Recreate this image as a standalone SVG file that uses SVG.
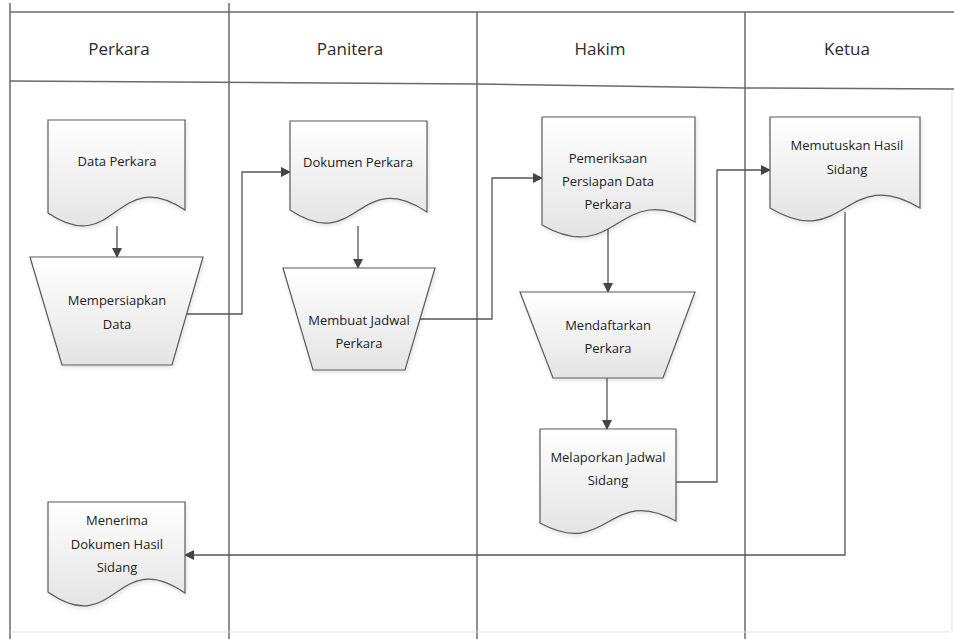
<svg xmlns="http://www.w3.org/2000/svg" width="954" height="639" viewBox="0 0 954 639">
<style>
.lane{stroke:#6a6a6a;stroke-width:1.5;fill:none}
.hdr{font-family:"Open Sans","DejaVu Sans",sans-serif;font-size:17px;fill:#2a2a2a;text-anchor:middle}
.shape{fill:url(#g);stroke:#5a5a5a;stroke-width:1.2;filter:url(#sh)}
.t{font-family:"Open Sans","DejaVu Sans",sans-serif;font-size:13px;fill:#222;text-anchor:middle}
.c{fill:none;stroke:#555;stroke-width:1.3}
</style>
<defs>
<linearGradient id="g" x1="0" y1="0" x2="0" y2="1">
<stop offset="0" stop-color="#ffffff"/>
<stop offset="1" stop-color="#e4e4e4"/>
</linearGradient>
<filter id="sh" x="-10%" y="-10%" width="130%" height="130%">
<feDropShadow dx="1" dy="2" stdDeviation="2" flood-color="#000" flood-opacity="0.12"/>
</filter>
<marker id="a" markerWidth="10" markerHeight="10" refX="9" refY="5" orient="auto" markerUnits="userSpaceOnUse">
<path d="M0,0 L10,5 L0,10 Z" fill="#444"/>
</marker>
</defs>
<rect width="954" height="639" fill="#ffffff"/>
<g id="lanes">
<line class="lane" x1="10" y1="3" x2="10" y2="639"/>
<line class="lane" x1="229" y1="3" x2="229" y2="639"/>
<line class="lane" x1="477" y1="12" x2="477" y2="639"/>
<line class="lane" x1="745" y1="12" x2="745" y2="639"/>
<line class="lane" x1="10" y1="12" x2="954" y2="12"/>
<path class="lane" d="M10,81 L477,84 L745,88 L954,89"/>
<line x1="10" y1="632" x2="950" y2="632" stroke="#e2e2e2" stroke-width="1"/>
<line x1="952" y1="90" x2="952" y2="632" stroke="#e2e2e2" stroke-width="1"/>
<text class="hdr" x="119" y="55">Perkara</text>
<text class="hdr" x="350" y="55">Panitera</text>
<text class="hdr" x="600" y="55">Hakim</text>
<text class="hdr" x="847" y="55">Ketua</text>
</g>
<g id="connectors">
<path class="c" d="M117,226 V257" marker-end="url(#a)"/>
<path class="c" d="M187,314 H242 V172 H290" marker-end="url(#a)"/>
<path class="c" d="M358,226 V268" marker-end="url(#a)"/>
<path class="c" d="M420,319 H492 V178 H542" marker-end="url(#a)"/>
<path class="c" d="M608,226 V292" marker-end="url(#a)"/>
<path class="c" d="M607,378 V429" marker-end="url(#a)"/>
<path class="c" d="M676,482 H717 V170 H770" marker-end="url(#a)"/>
<path class="c" d="M845,212 V555 H185" marker-end="url(#a)"/>
</g>
<g id="data-perkara">
<path class="shape" d="M48,120 H185 V210 C116,164 116,259 48,213 Z"/>
<text class="t" x="117" y="166">Data Perkara</text>
</g>
<g id="mempersiapkan-data">
<path class="shape" d="M30,257 H203 L172,365 H62 Z"/>
<text class="t" x="117" y="305">Mempersiapkan</text>
<text class="t" x="117" y="329">Data</text>
</g>
<g id="dokumen-perkara">
<path class="shape" d="M290,121 H427 V212 C358,166 358,255 290,210 Z"/>
<text class="t" x="358" y="167">Dokumen Perkara</text>
</g>
<g id="membuat-jadwal">
<path class="shape" d="M283,268 H435 L405,370 H313 Z"/>
<text class="t" x="359" y="325">Membuat Jadwal</text>
<text class="t" x="359" y="348">Perkara</text>
</g>
<g id="pemeriksaan">
<path class="shape" d="M542,117 H695 V222 C618,178 618,268 542,225 Z"/>
<text class="t" x="608" y="163">Pemeriksaan</text>
<text class="t" x="608" y="186">Persiapan Data</text>
<text class="t" x="608" y="209">Perkara</text>
</g>
<g id="mendaftarkan">
<path class="shape" d="M520,292 H695 L663,378 H553 Z"/>
<text class="t" x="608" y="330">Mendaftarkan</text>
<text class="t" x="608" y="353">Perkara</text>
</g>
<g id="melaporkan">
<path class="shape" d="M540,429 H676 V521 C608,484 608,560 540,523 Z"/>
<text class="t" x="608" y="462">Melaporkan Jadwal</text>
<text class="t" x="608" y="485">Sidang</text>
</g>
<g id="memutuskan">
<path class="shape" d="M770,117 H920 V208 C845,163 845,253 770,208 Z"/>
<text class="t" x="847" y="150">Memutuskan Hasil</text>
<text class="t" x="847" y="174">Sidang</text>
</g>
<g id="menerima">
<path class="shape" d="M48,502 H185 V593 C116,545 116,640 48,592 Z"/>
<text class="t" x="117" y="525">Menerima</text>
<text class="t" x="117" y="549">Dokumen Hasil</text>
<text class="t" x="117" y="572">Sidang</text>
</g>
</svg>
